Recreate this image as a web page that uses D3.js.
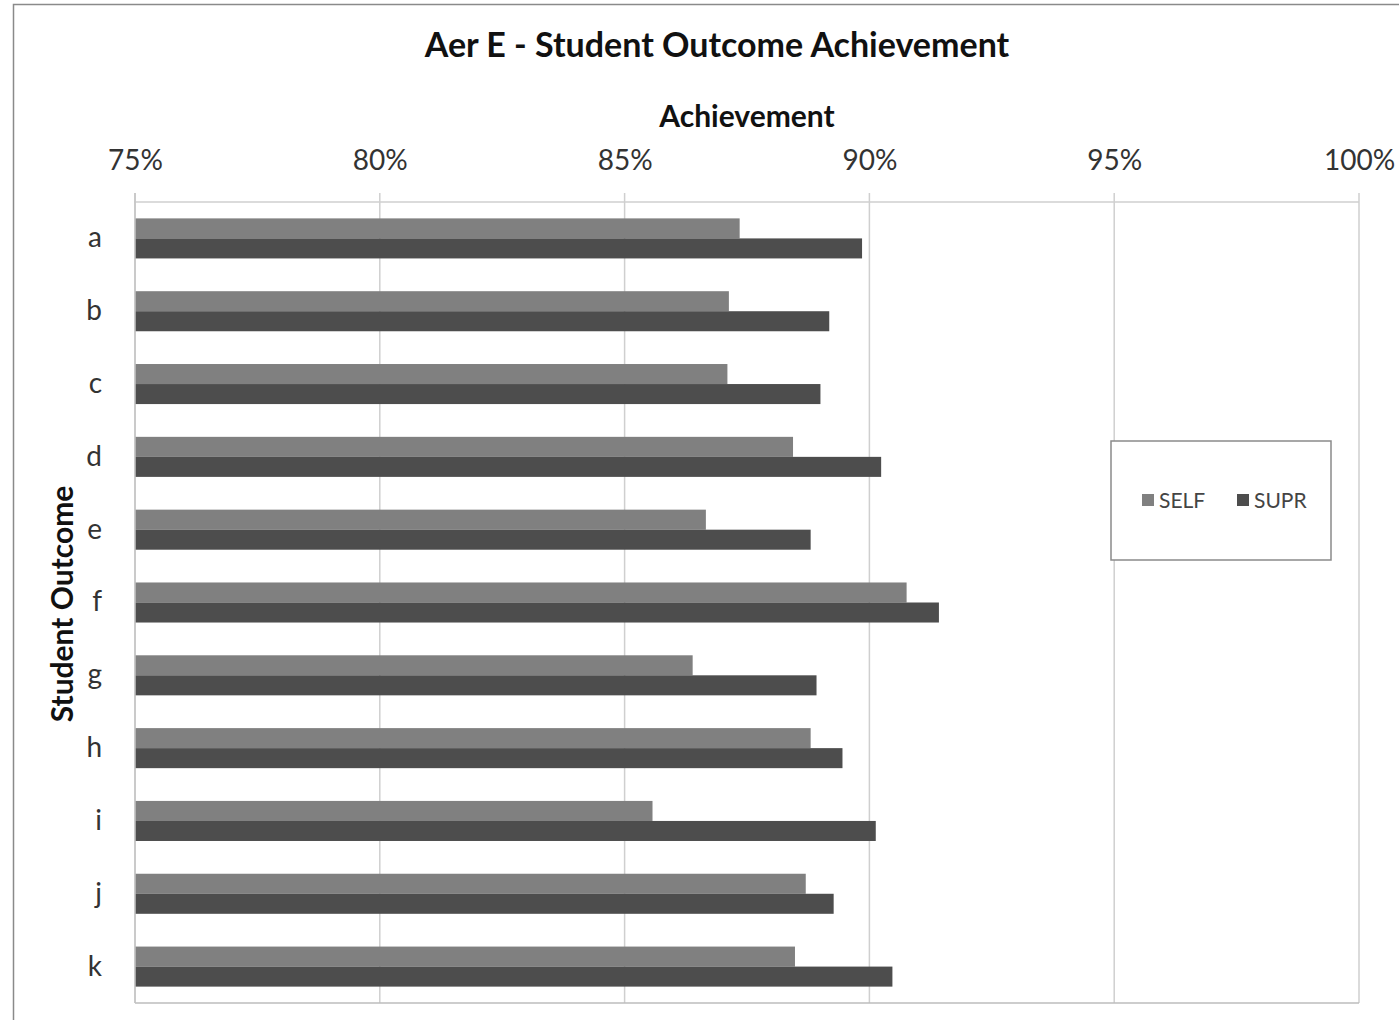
<!DOCTYPE html>
<html><head><meta charset="utf-8">
<script src="https://cdn.jsdelivr.net/npm/d3@7"></script>
<style>body{margin:0;background:#fff;} svg{display:block;} text{font-family:Lato,"Open Sans",sans-serif;}</style>
</head><body>
<svg id="c" width="1399" height="1020"></svg>
<script>
const categories = ["a","b","c","d","e","f","g","h","i","j","k"];
const selfValues = [87.35, 87.13, 87.10, 88.44, 86.66, 90.76, 86.39, 88.80, 85.57, 88.70, 88.48];
const suprValues = [89.85, 89.18, 89.00, 90.24, 88.80, 91.42, 88.92, 89.45, 90.13, 89.27, 90.47];
const tickValues = [75, 80, 85, 90, 95, 100];
const seriesNames = ["SELF", "SUPR"];
const seriesColors = ["#808080", "#4d4d4d"];

const svg = d3.select("#c");
const L = 135, R = 1359, T = 202, B = 1003;

svg.append("rect").attr("x",13.5).attr("y",4.5).attr("width",1400).attr("height",1030)
  .attr("fill","#fff").attr("stroke","#8a8a8a").attr("stroke-width",1.5);

const x = d3.scaleLinear().domain([75,100]).range([L,R]);
const y0 = d3.scaleBand().domain(categories).range([T,B]).paddingInner(0.45).paddingOuter(0.225);
const y1 = d3.scaleBand().domain(seriesNames).range([0,y0.bandwidth()]);

// gridlines
svg.append("g").selectAll("line").data(tickValues).join("line")
  .attr("x1",d=>x(d)).attr("x2",d=>x(d)).attr("y1",T-9).attr("y2",B)
  .attr("stroke","#cfcfcf").attr("stroke-width",1.5);
svg.append("line").attr("x1",L-1).attr("x2",R).attr("y1",T).attr("y2",T).attr("stroke","#cfcfcf").attr("stroke-width",1.5);
svg.append("line").attr("x1",L).attr("x2",R).attr("y1",B).attr("y2",B).attr("stroke","#bdbdbd").attr("stroke-width",1.5);

// axis top
const ax = svg.append("g").attr("transform",`translate(0,${T})`)
  .call(d3.axisTop(x).tickValues(tickValues).tickFormat(d=>d+"%").tickSize(0).tickPadding(32));
ax.select(".domain").remove();
ax.selectAll("text").attr("font-size",28).attr("fill","#333").attr("font-family","Lato,sans-serif");

// bars
const rows = categories.map((c,i)=>({c, vals:[selfValues[i], suprValues[i]]}));
const g = svg.append("g");
rows.forEach(r=>{
  seriesNames.forEach((s,j)=>{
    g.append("rect").attr("x",x(75)).attr("y",y0(r.c)+y1(s))
      .attr("width",x(r.vals[j])-x(75)).attr("height",y1.bandwidth())
      .attr("fill",seriesColors[j]);
  });
});
svg.append("line").attr("x1",L).attr("x2",L).attr("y1",T-9).attr("y2",B).attr("stroke","#c4c4c4").attr("stroke-width",1.5);

// y labels
const ay = svg.append("g").attr("transform",`translate(${L},0)`)
  .call(d3.axisLeft(y0).tickSize(0).tickPadding(33));
ay.select(".domain").remove();
ay.selectAll("text").attr("font-size",28).attr("fill","#333").attr("font-family","Lato,sans-serif");

// titles
svg.append("text").attr("x",717).attr("y",57).attr("text-anchor","middle")
  .attr("font-size",34).attr("font-weight","bold").attr("fill","#111").text("Aer E - Student Outcome Achievement");
svg.append("text").attr("x",747).attr("y",127).attr("text-anchor","middle")
  .attr("font-size",30).attr("font-weight","bold").attr("fill","#111").text("Achievement");
svg.append("text").attr("transform","translate(73,604) rotate(-90)").attr("text-anchor","middle")
  .attr("font-size",30).attr("font-weight","bold").attr("fill","#111").text("Student  Outcome");

// legend
svg.append("rect").attr("x",1111).attr("y",441).attr("width",220).attr("height",119)
  .attr("fill","#fff").attr("stroke","#8a8a8a").attr("stroke-width",1.5);
const lx = [1142, 1237];
seriesNames.forEach((s,j)=>{
  svg.append("rect").attr("x",lx[j]).attr("y",494).attr("width",12).attr("height",12).attr("fill",seriesColors[j]);
  svg.append("text").attr("x",lx[j]+17).attr("y",508).attr("font-size",21).attr("fill","#444").text(s);
});
</script>
</body></html>
